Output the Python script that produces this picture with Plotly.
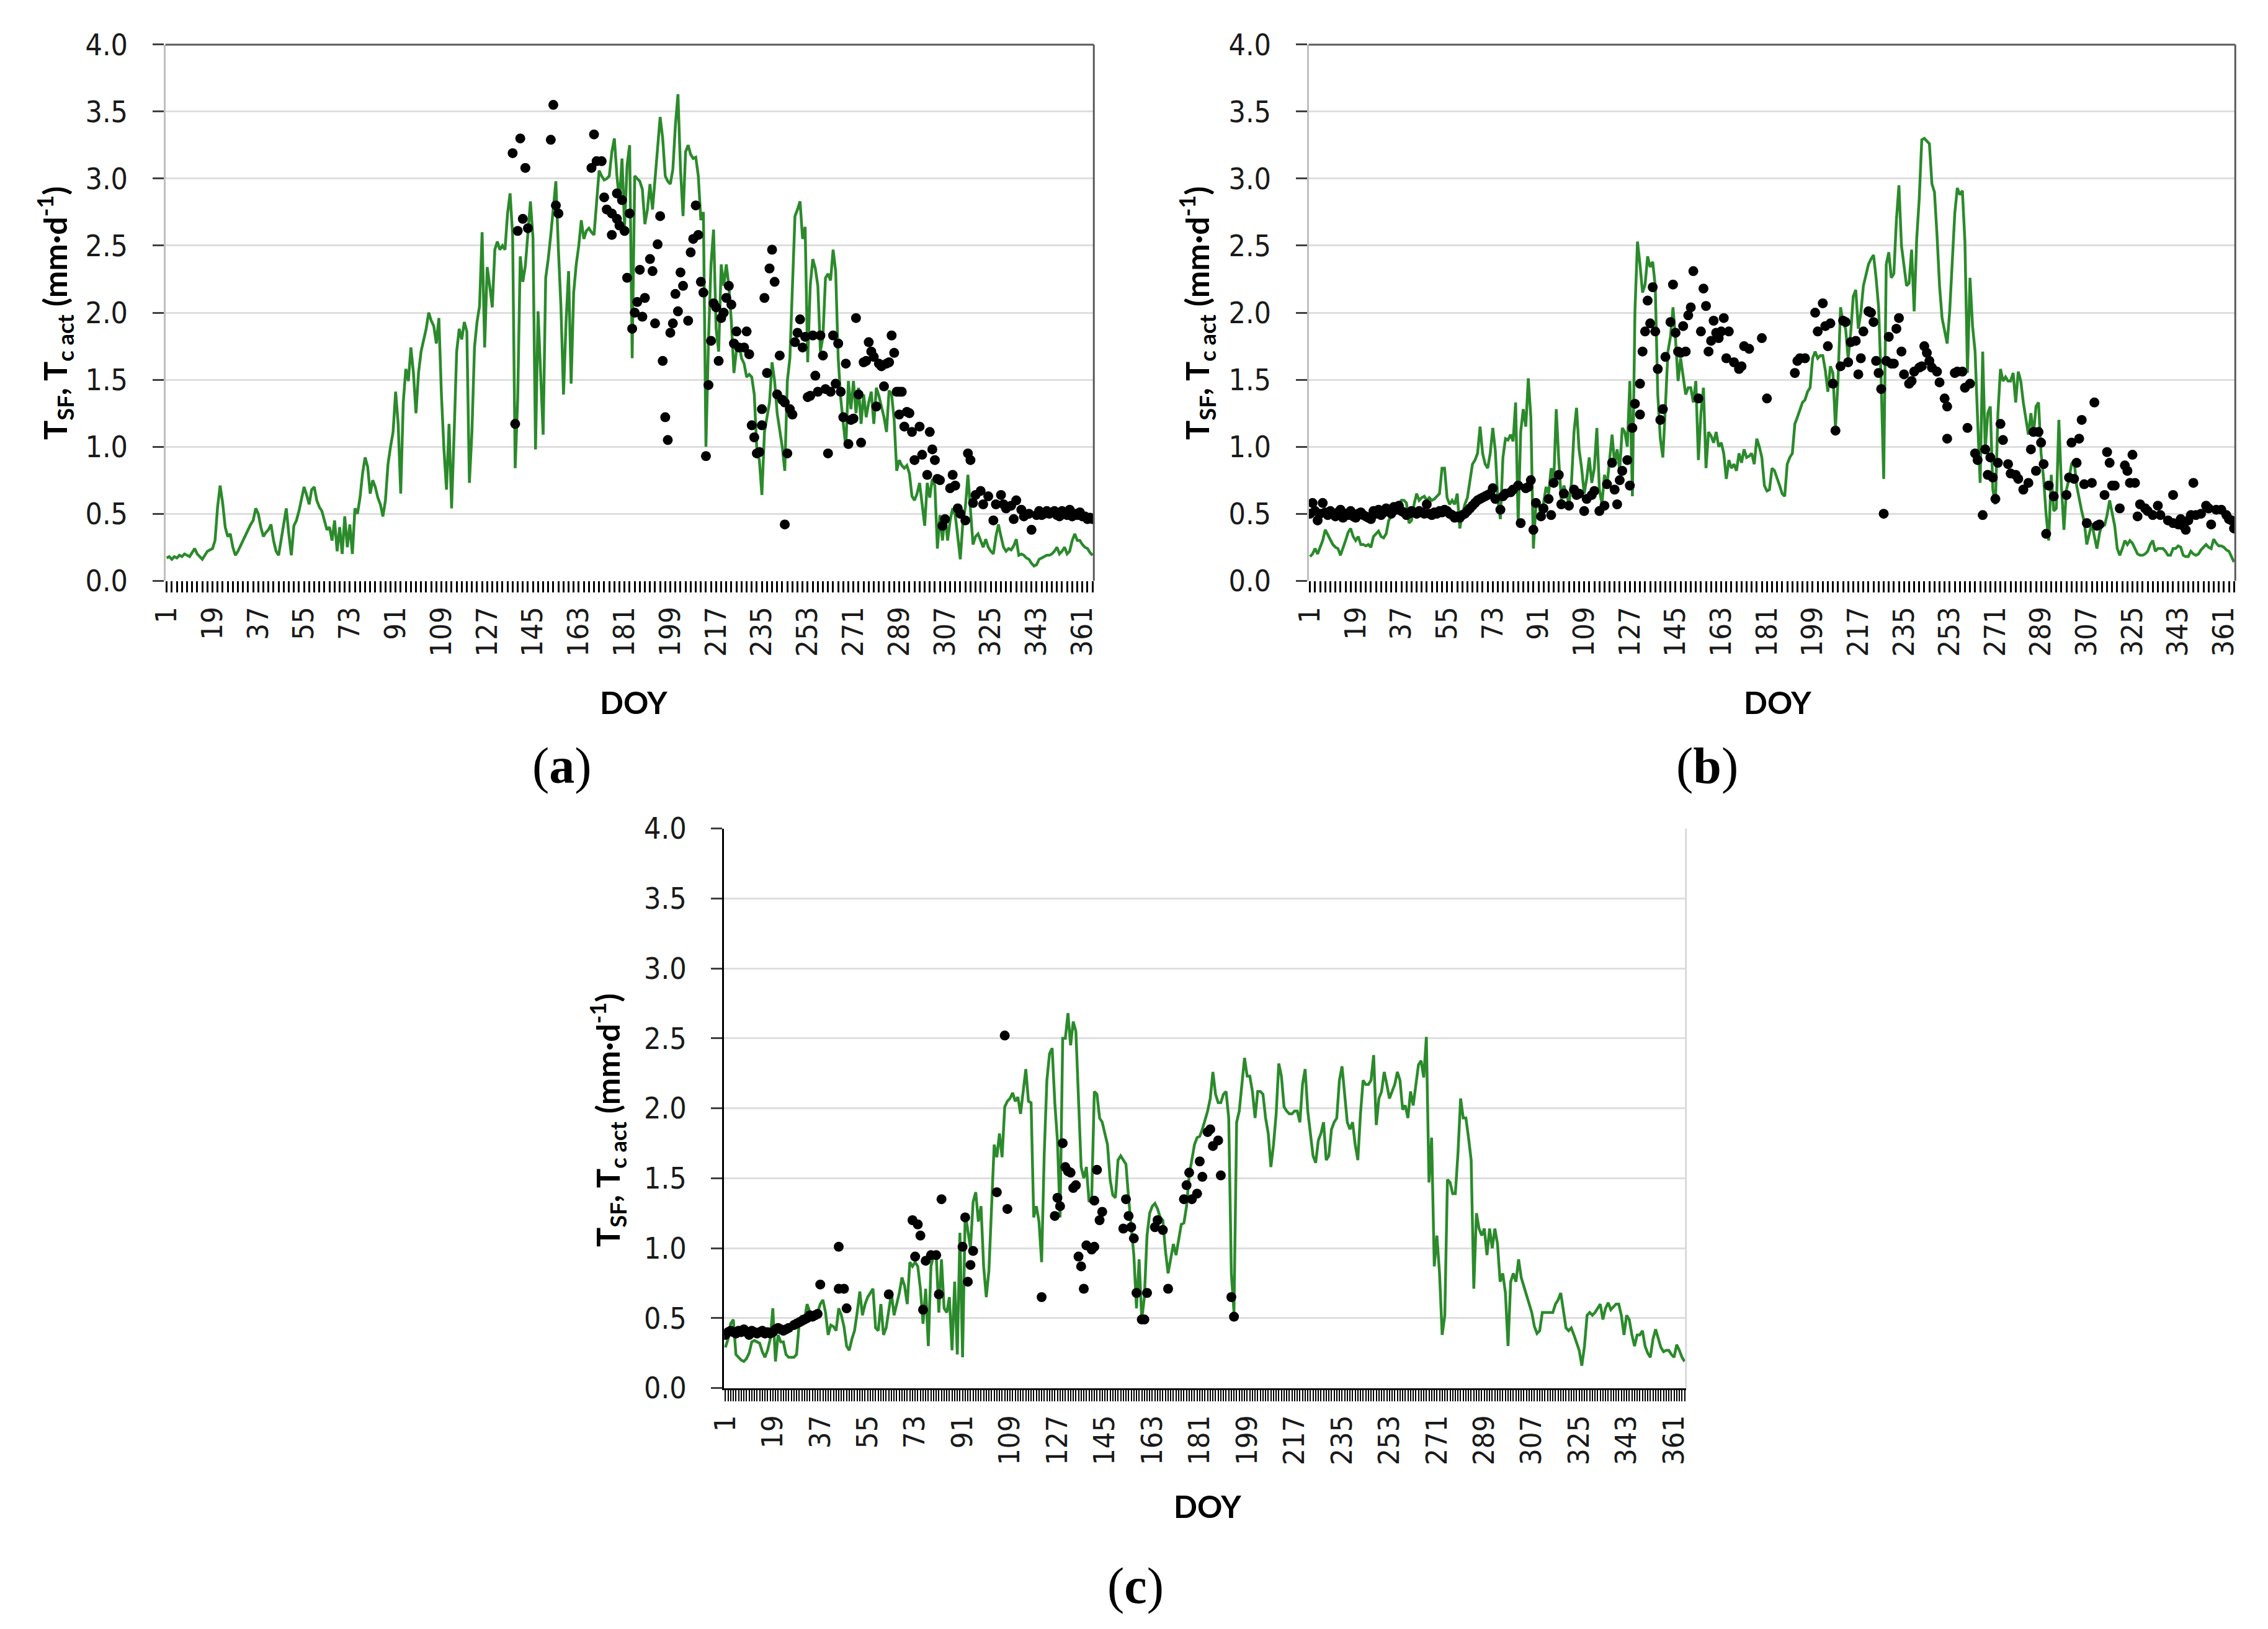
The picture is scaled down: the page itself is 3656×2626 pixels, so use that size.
import plotly.graph_objects as go

# page size and the 8 px body margin of the html page
W, H = 3656, 2626
OFF = 8
FW, FH = W - 2 * OFF, H - 2 * OFF

doy = list(range(1, 366))

# panel (a) daily modelled transpiration (green line)
a_line = [
    0.17, 0.18, 0.16, 0.18, 0.17, 0.19, 0.18, 0.20, 0.19, 0.18,
    0.21, 0.24, 0.20, 0.18, 0.16, 0.19, 0.22, 0.23, 0.24, 0.30,
    0.55, 0.71, 0.58, 0.40, 0.33, 0.35, 0.25, 0.19, 0.22, 0.26,
    0.30, 0.35, 0.38, 0.42, 0.45, 0.54, 0.50, 0.40, 0.33, 0.36,
    0.38, 0.42, 0.30, 0.22, 0.19, 0.30, 0.40, 0.54, 0.35, 0.19,
    0.41, 0.45, 0.52, 0.60, 0.70, 0.64, 0.57, 0.68, 0.70, 0.60,
    0.55, 0.52, 0.45, 0.38, 0.40, 0.30, 0.45, 0.22, 0.40, 0.20,
    0.48, 0.25, 0.42, 0.20, 0.54, 0.50, 0.62, 0.80, 0.92, 0.85,
    0.65, 0.75, 0.70, 0.62, 0.57, 0.48, 0.60, 0.87, 1.00, 1.11,
    1.41, 1.17, 0.65, 1.33, 1.58, 1.49, 1.74, 1.55, 1.25, 1.55,
    1.71, 1.80, 1.88, 2.00, 1.94, 1.90, 1.77, 1.96, 1.39, 0.98,
    0.68, 1.17, 0.54, 1.10, 1.71, 1.88, 1.80, 1.93, 1.86, 0.73,
    1.11, 1.74, 1.93, 2.05, 2.60, 1.74, 2.34, 2.20, 2.04, 2.47,
    2.53, 2.47, 2.50, 2.47, 2.74, 2.89, 2.58, 0.84, 1.36, 2.42,
    2.23, 2.35, 2.60, 2.83, 2.56, 0.98, 2.01, 1.50, 1.09, 2.26,
    2.40, 2.58, 2.80, 2.98, 2.47, 2.04, 1.39, 1.93, 2.31, 1.47,
    2.15, 2.36, 2.50, 2.69, 2.55, 2.61, 2.63, 2.60, 2.58, 2.83,
    3.06, 3.02, 2.99, 3.00, 3.02, 3.20, 3.30, 3.02, 2.83, 3.15,
    2.64, 3.10, 3.25, 1.66, 3.02, 3.00, 2.98, 2.92, 2.66, 2.77,
    2.96, 2.77, 2.99, 3.23, 3.46, 3.30, 3.02, 2.98, 2.96, 3.07,
    3.40, 3.63, 3.07, 2.72, 3.20, 3.25, 3.18, 3.15, 3.16, 3.02,
    2.69, 2.75, 1.00, 1.79, 2.36, 2.62, 1.88, 1.71, 2.36, 2.20,
    2.36, 2.20, 1.93, 1.55, 1.72, 1.77, 1.66, 1.62, 1.52, 1.54,
    1.52, 1.39, 0.98, 0.90, 0.64, 1.11, 1.22, 1.33, 1.63, 1.49,
    1.25, 1.11, 1.00, 0.82, 1.49, 1.66, 2.20, 2.72, 2.77, 2.83,
    2.55, 2.64, 1.63, 2.20, 2.40, 2.33, 2.20, 1.71, 1.82, 2.26,
    2.29, 2.24, 2.47, 2.31, 1.66, 1.36, 1.17, 1.00, 1.49, 1.28,
    1.49, 1.25, 1.44, 1.17, 1.39, 1.22, 1.33, 1.41, 1.17, 1.44,
    1.38, 1.30, 1.22, 1.11, 1.42, 1.39, 1.20, 0.82, 0.90, 0.86,
    0.84, 0.86, 0.80, 0.63, 0.60, 0.65, 0.73, 0.57, 0.41, 0.73,
    0.62, 0.76, 0.71, 0.24, 0.49, 0.30, 0.49, 0.30, 0.45, 0.54,
    0.49, 0.33, 0.16, 0.43, 0.55, 0.79, 0.52, 0.27, 0.33, 0.35,
    0.30, 0.25, 0.31, 0.25, 0.22, 0.20, 0.33, 0.42, 0.33, 0.25,
    0.22, 0.24, 0.23, 0.26, 0.31, 0.19, 0.20, 0.19, 0.17, 0.16,
    0.13, 0.11, 0.12, 0.16, 0.17, 0.18, 0.19, 0.19, 0.20, 0.22,
    0.25, 0.20, 0.22, 0.25, 0.20, 0.22, 0.30, 0.35, 0.30, 0.30,
    0.27, 0.25, 0.24, 0.21, 0.19,
]

# panel (a) sap flow (black dots)
a_dot_doy = [
    137, 138, 139, 140, 141, 142, 143, 152, 153, 154, 155,
    168, 169, 170, 172, 173, 174, 176, 176, 178, 178, 179, 180, 181, 182, 183,
    184, 185, 186, 187, 188, 189, 191, 192, 193, 194, 195, 196, 197, 198, 199,
    200, 201, 202, 203, 204, 206, 207, 208, 209, 210, 211, 212, 213, 214, 215,
    216, 217, 218, 219, 220, 221, 222, 223, 224, 225, 226, 228, 229, 230, 231,
    232, 233, 234, 235, 235, 236, 237, 238, 239, 240, 241, 242, 243, 244, 244,
    245, 246, 247, 248, 249, 250, 251, 252, 253, 254, 255, 256, 257, 258, 259,
    260, 261, 262, 263, 264, 265, 266, 267, 268, 269, 270, 271, 272, 273, 274,
    275, 276, 277, 278, 279, 280, 281, 282, 283, 284, 285, 286, 287, 288, 289,
    289, 290, 291, 292, 293, 294, 295, 297, 298, 300, 301, 302, 303, 304, 305,
    306, 307, 309, 310, 311, 312, 313, 315, 316, 317, 318, 319, 321, 322, 324,
    326, 327, 329, 330, 331, 333, 334, 335, 337, 338, 340, 341, 343, 344, 345,
    346, 347, 348, 349, 350, 351, 352, 353, 354, 355, 356, 357, 358, 359, 360,
    361, 362, 363, 364, 365,
]
a_dot_val = [
    3.19, 1.17, 2.61, 3.30, 2.70, 3.08, 2.63, 3.29, 3.55, 2.80, 2.74,
    3.08, 3.33, 3.13, 3.13, 2.86, 2.77, 2.74, 2.58, 2.89, 2.70, 2.65, 2.84, 2.61, 2.26, 2.74,
    1.88, 2.00, 2.08, 2.32, 1.97, 2.11, 2.40, 2.31, 1.92, 2.51, 2.72, 1.64, 1.22, 1.05, 1.85,
    1.92, 2.14, 2.01, 2.30, 2.20, 1.94, 2.45, 2.55, 2.80, 2.58, 2.23, 2.15, 0.93, 1.46, 1.79,
    2.07, 2.04, 1.64, 1.96, 2.00, 2.11, 2.20, 2.06, 1.77, 1.86, 1.74, 1.74, 1.86, 1.69, 1.16,
    1.07, 0.95, 0.96, 1.16, 1.28, 2.11, 1.55, 2.33, 2.47, 2.23, 1.39, 1.68, 1.35, 1.33, 0.42,
    0.95, 1.28, 1.24, 1.78, 1.85, 1.95, 1.74, 1.82, 1.37, 1.38, 1.83, 1.53, 1.41, 1.83, 1.68,
    1.43, 0.95, 1.41, 1.83, 1.47, 1.77, 1.41, 1.22, 1.62, 1.02, 1.20, 1.21, 1.96, 1.39, 1.03,
    1.63, 1.64, 1.78, 1.71, 1.67, 1.30, 1.62, 1.60, 1.45, 1.62, 1.63, 1.83, 1.70, 1.41, 1.41,
    1.24, 1.41, 1.15, 1.26, 1.25, 1.11, 0.90, 1.15, 0.94, 0.79, 1.11, 0.98, 0.90, 0.76, 0.75,
    0.41, 0.46, 0.69, 0.79, 0.71, 0.54, 0.50, 0.45, 0.95, 0.90, 0.58, 0.64, 0.67, 0.57, 0.63,
    0.45, 0.57, 0.64, 0.57, 0.54, 0.56, 0.46, 0.60, 0.53, 0.48, 0.50, 0.38, 0.49, 0.52, 0.49,
    0.50, 0.52, 0.50, 0.51, 0.52, 0.49, 0.48, 0.52, 0.50, 0.49, 0.53, 0.48, 0.50, 0.49, 0.51,
    0.48, 0.48, 0.46, 0.47, 0.46,
]

# panel (b)
b_line = [
    0.18, 0.20, 0.24, 0.20, 0.25, 0.30, 0.38, 0.34, 0.30, 0.27,
    0.25, 0.24, 0.19, 0.24, 0.30, 0.36, 0.39, 0.33, 0.30, 0.33,
    0.27, 0.27, 0.26, 0.27, 0.25, 0.33, 0.35, 0.37, 0.33, 0.32,
    0.35, 0.45, 0.48, 0.52, 0.54, 0.57, 0.60, 0.60, 0.58, 0.43,
    0.45, 0.57, 0.65, 0.60, 0.62, 0.63, 0.60, 0.62, 0.60, 0.61,
    0.63, 0.65, 0.84, 0.84, 0.62, 0.57, 0.60, 0.57, 0.65, 0.39,
    0.49, 0.57, 0.62, 0.73, 0.87, 0.90, 0.95, 1.15, 0.95, 0.87,
    0.84, 0.95, 1.14, 0.97, 0.60, 0.46, 0.92, 1.06, 1.05, 1.09,
    1.04, 1.33, 0.43, 1.11, 1.28, 1.15, 1.51, 1.22, 0.24, 0.57,
    0.60, 0.46, 0.57, 0.70, 0.65, 0.84, 0.73, 1.28, 0.90, 0.60,
    0.71, 0.65, 0.57, 0.73, 1.11, 1.29, 0.98, 0.84, 0.65, 0.76,
    0.92, 0.73, 0.84, 1.14, 0.68, 0.57, 0.79, 0.71, 0.90, 1.09,
    0.87, 0.98, 0.82, 1.14, 1.11, 1.00, 1.49, 0.63, 2.01, 2.53,
    2.36, 2.15, 2.21, 2.42, 2.34, 2.38, 2.20, 1.39, 1.06, 0.92,
    1.30, 1.71, 1.82, 2.04, 1.80, 1.49, 1.66, 1.52, 1.39, 1.44,
    1.44, 1.33, 1.49, 0.90, 1.25, 1.44, 0.84, 1.11, 1.08, 1.03,
    1.11, 1.00, 1.03, 0.95, 0.76, 0.90, 0.84, 0.87, 0.82, 0.95,
    0.88, 0.98, 0.92, 0.93, 0.95, 0.87, 1.06, 1.00, 0.92, 0.71,
    0.67, 0.68, 0.84, 0.82, 0.77, 0.71, 0.65, 0.63, 0.87, 0.92,
    0.95, 1.17, 1.22, 1.28, 1.33, 1.35, 1.41, 1.44, 1.66, 1.71,
    1.66, 1.68, 1.68, 1.57, 1.41, 1.60, 1.55, 1.14, 1.49, 2.04,
    1.93, 1.88, 1.66, 1.85, 2.12, 2.17, 1.88, 2.00, 2.20, 2.28,
    2.36, 2.40, 2.43, 2.26, 2.04, 1.49, 0.76, 2.36, 2.45, 2.26,
    2.29, 2.69, 2.95, 2.50, 2.34, 2.20, 2.22, 2.47, 2.01, 2.55,
    2.85, 3.29, 3.30, 3.28, 3.26, 2.96, 2.90, 2.58, 2.20, 1.96,
    1.85, 1.77, 2.01, 2.36, 2.74, 2.93, 2.88, 2.91, 2.53, 1.55,
    2.26, 1.90, 1.71, 1.20, 0.73, 1.71, 0.98, 1.25, 1.30, 0.68,
    0.57, 1.25, 1.58, 1.49, 1.52, 1.49, 1.49, 1.55, 1.33, 1.56,
    1.49, 1.33, 1.20, 1.09, 1.25, 1.09, 1.30, 1.33, 0.95, 0.76,
    0.49, 0.30, 0.79, 0.52, 0.54, 1.20, 0.71, 0.38, 0.68, 0.76,
    0.87, 0.90, 0.71, 0.60, 0.52, 0.44, 0.27, 0.35, 0.43, 0.33,
    0.24, 0.35, 0.43, 0.41, 0.49, 0.60, 0.49, 0.41, 0.24, 0.19,
    0.24, 0.30, 0.27, 0.30, 0.28, 0.24, 0.20, 0.19, 0.19, 0.20,
    0.22, 0.27, 0.30, 0.22, 0.24, 0.24, 0.24, 0.22, 0.19, 0.19,
    0.24, 0.24, 0.26, 0.25, 0.19, 0.18, 0.18, 0.22, 0.20, 0.19,
    0.20, 0.23, 0.25, 0.27, 0.25, 0.24, 0.31, 0.28, 0.26, 0.26,
    0.25, 0.23, 0.22, 0.18, 0.14,
]

b_dot_doy = list(range(1, 60)) + [
    60, 61, 62, 63, 64, 65, 66, 67, 68, 69, 70, 71, 72, 73, 74, 76, 77, 78, 80,
    81, 83, 84, 86, 87, 88, 89, 90, 92, 93, 95, 96, 97, 99, 100, 101, 103, 105,
    106, 107, 109, 110, 112, 113, 115, 117, 118, 120, 121, 122, 123, 124, 126,
    127, 128, 129, 131, 131, 132, 133, 134, 135, 136, 137, 138, 139, 140, 141,
    143, 144, 145, 146, 147, 148, 149, 150, 151, 152, 154, 155, 156, 157, 158,
    159, 160, 161, 162, 163, 164, 165, 166, 168, 170, 171, 172, 174, 179, 181,
    192, 193, 194, 196, 200, 201, 203, 204, 205, 206, 207, 208, 210, 211, 212,
    213, 214, 216, 217, 218, 219, 221, 222, 223, 224, 225, 226, 227, 228, 229,
    230, 231, 232, 233, 234, 235, 237, 238, 239, 241, 242, 243, 244, 245, 246,
    248, 249, 251, 252, 252, 255, 256, 258, 259, 260, 261, 263, 264, 266, 267,
    268, 269, 270, 271, 272, 273, 274, 276, 277, 279, 280, 282, 284, 285, 286,
    287, 288, 289, 290, 291, 292, 294, 299, 300, 301, 302, 303, 304, 305, 306,
    307, 309, 310, 311, 312, 314, 315, 316, 317, 318, 320, 322, 323, 324, 325,
    326, 327, 328, 330, 331, 333, 335, 336, 339, 341, 341, 343, 344, 345, 346,
    347, 348, 349, 350, 352, 354, 355, 356, 358, 360, 362, 363, 364, 365,
]
b_dot_val = [
    0.50, 0.58, 0.52, 0.45, 0.50, 0.58, 0.51, 0.49, 0.52, 0.50,
    0.48, 0.51, 0.53, 0.47, 0.50, 0.49, 0.52, 0.48, 0.47, 0.50,
    0.51, 0.49, 0.48, 0.47, 0.46, 0.52, 0.50, 0.53, 0.49, 0.51,
    0.54, 0.52, 0.50, 0.55, 0.53, 0.56, 0.52, 0.51, 0.49, 0.50,
    0.52, 0.51, 0.50, 0.52, 0.51, 0.50, 0.57, 0.50, 0.49, 0.51,
    0.50, 0.52, 0.51, 0.53, 0.52, 0.50, 0.49, 0.47, 0.48,
    0.47, 0.49, 0.50, 0.52, 0.54, 0.56, 0.58, 0.60, 0.61, 0.62, 0.63, 0.64, 0.65, 0.69, 0.61, 0.53, 0.63, 0.65, 0.66,
    0.68, 0.71, 0.43, 0.69, 0.70, 0.75, 0.38, 0.58, 0.48, 0.54, 0.61, 0.49, 0.73, 0.79, 0.57, 0.65, 0.56, 0.68,
    0.64, 0.65, 0.52, 0.61, 0.64, 0.67, 0.52, 0.56, 0.72, 0.88, 0.68, 0.57, 0.75, 0.82, 0.90,
    0.71, 1.14, 1.32, 1.47, 1.24, 1.71, 1.86, 2.09, 1.92, 2.19, 1.86, 1.58, 1.20, 1.28, 1.67,
    1.93, 2.21, 1.85, 1.71, 1.70, 1.90, 1.71, 1.98, 2.04, 2.31, 1.36, 1.86, 2.18, 2.05, 1.71,
    1.79, 1.94, 1.85, 1.81, 1.86, 1.96, 1.66, 1.86, 1.63, 1.58, 1.60, 1.75, 1.73, 1.81, 1.36,
    1.55, 1.64, 1.66, 1.66, 2.00, 1.86, 2.07, 1.90, 1.75, 1.92, 1.47, 1.12, 1.60, 1.94, 1.93,
    1.63, 1.78, 1.79, 1.54, 1.66, 1.86, 2.01, 2.00, 1.93, 1.64, 1.55, 1.43, 0.50, 1.64, 1.82,
    1.62, 1.62, 1.88, 1.96, 1.71, 1.54, 1.47, 1.49, 1.56, 1.59, 1.60, 1.75, 1.70, 1.64, 1.59,
    1.56, 1.48, 1.36, 1.30, 1.06, 1.55, 1.56, 1.56, 1.44, 1.14, 1.47, 0.95, 0.90, 0.49, 0.98,
    0.79, 0.92, 0.77, 0.61, 0.88, 1.17, 1.05, 0.87, 0.80, 0.79, 0.76, 0.68, 0.73, 0.98, 1.11,
    0.82, 1.11, 1.03, 0.87, 0.35, 0.71, 0.63, 0.64, 0.77, 1.03, 0.76, 0.88, 1.06, 1.20, 0.72,
    0.43, 0.73, 1.33, 0.41, 0.42, 0.64, 0.96, 0.88, 0.71, 0.71, 0.54, 0.86, 0.82, 0.73, 0.94,
    0.73, 0.48, 0.57, 0.54, 0.52, 0.49, 0.56, 0.49, 0.45, 0.64, 0.43, 0.42, 0.46, 0.41, 0.38,
    0.45, 0.49, 0.73, 0.49, 0.50, 0.56, 0.54, 0.42, 0.53, 0.53, 0.49, 0.46, 0.45, 0.39,
]

# panel (c)
c_line = [
    0.29, 0.35, 0.46, 0.49, 0.24, 0.22, 0.20, 0.19, 0.21, 0.25,
    0.33, 0.34, 0.33, 0.32, 0.26, 0.22, 0.27, 0.35, 0.57, 0.19,
    0.38, 0.33, 0.33, 0.24, 0.22, 0.22, 0.22, 0.24, 0.46, 0.52,
    0.49, 0.60, 0.54, 0.49, 0.52, 0.54, 0.60, 0.63, 0.54, 0.38,
    0.45, 0.44, 0.41, 0.57, 0.52, 0.44, 0.30, 0.27, 0.35, 0.41,
    0.54, 0.69, 0.52, 0.60, 0.65, 0.68, 0.71, 0.43, 0.41, 0.60,
    0.38, 0.43, 0.57, 0.68, 0.52, 0.60, 0.68, 0.79, 0.73, 0.60,
    0.90, 0.87, 0.90, 0.87, 0.71, 0.46, 0.71, 0.30, 0.87, 0.95,
    0.95, 0.54, 0.92, 0.57, 0.54, 0.65, 0.27, 0.76, 0.24, 1.11,
    0.22, 1.25, 1.11, 1.00, 1.33, 1.40, 1.19, 1.30, 0.87, 0.65,
    0.84, 1.30, 1.74, 1.65, 1.82, 1.65, 2.01, 2.05, 2.07, 2.11,
    2.05, 2.08, 1.96, 2.12, 2.28, 2.05, 2.04, 1.22, 1.30, 1.19,
    0.90, 1.68, 2.20, 2.39, 2.43, 2.04, 1.77, 1.22, 2.50, 2.50,
    2.68, 2.45, 2.62, 2.55, 2.12, 1.58, 1.50, 1.58, 1.33, 1.36,
    2.12, 2.10, 1.93, 1.90, 1.82, 1.74, 1.49, 1.38, 1.36, 1.63,
    1.66, 1.63, 1.60, 1.36, 1.14, 0.95, 0.57, 0.92, 0.49, 0.65,
    1.09, 1.25, 1.30, 1.32, 1.28, 1.22, 1.20, 0.98, 0.82, 0.92,
    1.03, 0.95, 1.06, 1.17, 1.18, 1.30, 1.52, 1.63, 1.74, 1.79,
    1.80, 1.85, 1.92, 1.98, 2.07, 2.26, 2.10, 2.04, 2.04, 2.10,
    2.12, 1.93, 0.82, 0.54, 1.90, 1.98, 2.17, 2.36, 2.23, 2.23,
    2.12, 1.93, 2.12, 2.12, 2.10, 1.93, 1.82, 1.58, 1.74, 1.96,
    2.32, 2.23, 2.01, 1.98, 1.96, 1.96, 1.98, 1.98, 1.90, 2.17,
    2.28, 1.98, 1.82, 1.66, 1.61, 1.77, 1.82, 1.90, 1.63, 1.66,
    1.85, 1.90, 1.93, 2.20, 2.30, 2.12, 1.90, 1.85, 1.90, 1.74,
    1.63, 1.96, 2.20, 2.17, 2.17, 2.20, 2.38, 1.88, 2.07, 2.12,
    2.26, 2.17, 2.07, 2.12, 2.17, 2.26, 2.20, 1.99, 2.02, 1.93,
    2.12, 2.02, 2.17, 2.31, 2.34, 2.22, 2.51, 1.47, 1.79, 0.87,
    1.09, 0.82, 0.38, 0.52, 1.49, 1.47, 1.39, 1.39, 1.68, 2.07,
    1.93, 1.93, 1.79, 1.63, 0.71, 1.25, 1.14, 1.09, 1.14, 0.95,
    1.14, 1.00, 1.14, 1.03, 0.76, 0.82, 0.68, 0.30, 0.76, 0.82,
    0.76, 0.92, 0.79, 0.73, 0.67, 0.60, 0.54, 0.44, 0.39, 0.41,
    0.54, 0.54, 0.54, 0.54, 0.54, 0.60, 0.63, 0.68, 0.54, 0.43,
    0.41, 0.43, 0.38, 0.32, 0.27, 0.16, 0.30, 0.52, 0.54, 0.52,
    0.54, 0.57, 0.60, 0.49, 0.57, 0.61, 0.56, 0.58, 0.60, 0.60,
    0.52, 0.38, 0.52, 0.49, 0.38, 0.30, 0.38, 0.38, 0.41, 0.30,
    0.25, 0.22, 0.35, 0.42, 0.35, 0.29, 0.26, 0.27, 0.27, 0.24,
    0.22, 0.31, 0.27, 0.22, 0.19,
]

c_dot_doy = list(range(1, 26)) + [
    27, 28, 29, 30, 31, 32, 33, 34, 35, 36, 37, 44, 44, 46, 47, 63, 72, 73, 74,
    75, 76, 77, 79, 81, 82, 83, 91, 92, 93, 94, 95, 104, 107, 108, 121, 126,
    127, 128, 129, 130, 131, 132, 133, 134, 135, 136, 137, 138, 140, 141, 141,
    142, 143, 144, 152, 153, 154, 155, 156, 157, 159, 160, 161, 164, 165, 167,
    169, 175, 176, 177, 178, 180, 181, 182, 184, 185, 186, 188, 189, 193, 194,
]
c_dot_val = [
    0.38, 0.40, 0.41, 0.40, 0.39, 0.41, 0.40, 0.42, 0.40, 0.38,
    0.41, 0.40, 0.39, 0.40, 0.41, 0.39, 0.40, 0.39, 0.40, 0.42,
    0.43, 0.42, 0.41, 0.42, 0.43,
    0.45, 0.46, 0.47, 0.48, 0.49, 0.50, 0.52, 0.51, 0.52, 0.53, 0.74, 1.01, 0.71, 0.71, 0.57, 0.67, 1.20, 0.94, 1.17,
    1.09, 0.56, 0.91, 0.95, 0.95, 0.67, 1.35, 1.01, 1.22, 0.76, 0.88, 0.98, 1.40, 2.52, 1.28, 0.65, 1.23,
    1.36, 1.30, 1.75, 1.58, 1.55, 1.54, 1.43, 1.45, 0.94, 0.87, 0.71, 1.02, 0.99, 1.01, 1.34,
    1.56, 1.20, 1.26, 1.14, 1.35, 1.23, 1.15, 1.07, 0.68, 0.49, 0.49, 0.68, 1.15, 1.20, 1.13,
    0.71, 1.35, 1.45, 1.54, 1.35, 1.39, 1.62, 1.51, 1.83, 1.85, 1.73, 1.77, 1.52, 0.65, 0.51,
]

for name, arr in [("a", a_line), ("b", b_line), ("c", c_line)]:
    assert len(arr) == 365, (name, len(arr))
for name, d, v in [("a", a_dot_doy, a_dot_val), ("b", b_dot_doy, b_dot_val), ("c", c_dot_doy, c_dot_val)]:
    assert len(d) == len(v), (name, len(d), len(v))

GREEN = "#2b8a2b"
TICKFONT = "DejaVu Sans Condensed, DejaVu Sans"
TITLEFONT = "Lato"

fig = go.Figure()
panels = [
    ("x", "y", a_line, a_dot_doy, a_dot_val),
    ("x2", "y2", b_line, b_dot_doy, b_dot_val),
    ("x3", "y3", c_line, c_dot_doy, c_dot_val),
]
for xa, ya, line, ddoy, dval in panels:
    fig.add_trace(go.Scatter(x=doy, y=line, mode="lines",
                             line=dict(color=GREEN, width=4.5),
                             xaxis=xa, yaxis=ya, showlegend=False))
    fig.add_trace(go.Scatter(x=ddoy, y=dval, mode="markers",
                             marker=dict(color="black", size=16),
                             xaxis=xa, yaxis=ya, showlegend=False))


# reference pixel -> paper fraction (small correction for where the page lands in the shot)
def fx(px):
    return ((px - 19) / 0.992 - OFF) / FW


def fy(py):
    return 1 - ((py - 26) / 0.985 - OFF) / FH


def xaxis(left, right, anchor, showline, step, tw):
    return dict(
        domain=[fx(left), fx(right)], anchor=anchor, range=[0.5, 365.5],
        tickmode="linear", tick0=1, dtick=18, tickangle=-90,
        ticks="outside", ticklen=18, tickwidth=tw, tickcolor="black",
        showgrid=False, zeroline=False,
        showline=showline, linecolor="black", linewidth=3,
        tickfont=dict(family=TICKFONT, size=47, color="#1a1a1a"),
        ticklabelstandoff=4,
        minor=dict(ticks="outside", tick0=1, dtick=step, ticklen=18,
                   tickwidth=tw, tickcolor="black", showgrid=False),
    )


def yaxis(top, bottom, anchor, linecolor):
    return dict(
        domain=[fy(bottom), fy(top)], anchor=anchor, range=[0, 4],
        tickmode="linear", tick0=0, dtick=0.5, tickformat=".1f",
        ticks="outside", ticklen=18, tickwidth=3, tickcolor="#404040",
        showgrid=True, gridcolor="#dedede", gridwidth=3, zeroline=False,
        showline=True, linecolor=linecolor, linewidth=3,
        tickfont=dict(family=TICKFONT, size=48, color="#1a1a1a"),
        ticklabelstandoff=30,
    )


fig.update_layout(
    width=FW, height=FH,
    margin=dict(l=0, r=0, t=0, b=0),
    paper_bgcolor="white", plot_bgcolor="white",
    xaxis=xaxis(259, 1758, "y", False, 2, 3),
    yaxis=yaxis(70, 940, "x", "#bfbfbf"),
    xaxis2=xaxis(2105, 3601, "y2", False, 2, 3),
    yaxis2=yaxis(70, 940, "x2", "#bfbfbf"),
    xaxis3=xaxis(1161, 2714, "y3", True, 1, 2),
    yaxis3=yaxis(1342, 2250, "x3", "black"),
)

# frame: dark top and right edges on (a) and (b), faint right edge on (c)
for xr, yr in [("x", "y"), ("x2", "y2")]:
    fig.add_shape(type="line", xref=xr + " domain", yref=yr + " domain",
                  x0=0, x1=1, y0=1, y1=1, line=dict(color="#595959", width=3))
    fig.add_shape(type="line", xref=xr + " domain", yref=yr + " domain",
                  x0=1, x1=1, y0=0, y1=1, line=dict(color="#595959", width=3))
fig.add_shape(type="line", xref="x3 domain", yref="y3 domain",
              x0=1, x1=1, y0=0, y1=1, line=dict(color="#d9d9d9", width=3))

ytitle = "<b>T<sub>SF</sub>, T<sub>c act</sub> (mm·d<sup>-1</sup>)</b>"
for xc, yc in [(80, 505), (1924, 505), (973, 1815)]:
    fig.add_annotation(text=ytitle, x=fx(xc), y=fy(yc), xref="paper", yref="paper",
                       textangle=-90, showarrow=False, xanchor="center", yanchor="middle",
                       font=dict(family=TITLEFONT, size=52, color="black"))

for xc, yc in [(1015, 1137), (2862, 1137), (1942, 2442)]:
    fig.add_annotation(text="<b>DOY</b>", x=fx(xc), y=fy(yc), xref="paper", yref="paper",
                       showarrow=False, xanchor="center", yanchor="middle",
                       font=dict(family=TITLEFONT, size=50, color="black"))

for lab, xc, yc in [("a", 899, 1240), ("b", 2748, 1240), ("c", 1825, 2571)]:
    fig.add_annotation(text="(<b>" + lab + "</b>)", x=fx(xc), y=fy(yc),
                       xref="paper", yref="paper", showarrow=False,
                       xanchor="center", yanchor="middle",
                       font=dict(family="Liberation Serif", size=82, color="black"))

fig.write_html("out.html")
